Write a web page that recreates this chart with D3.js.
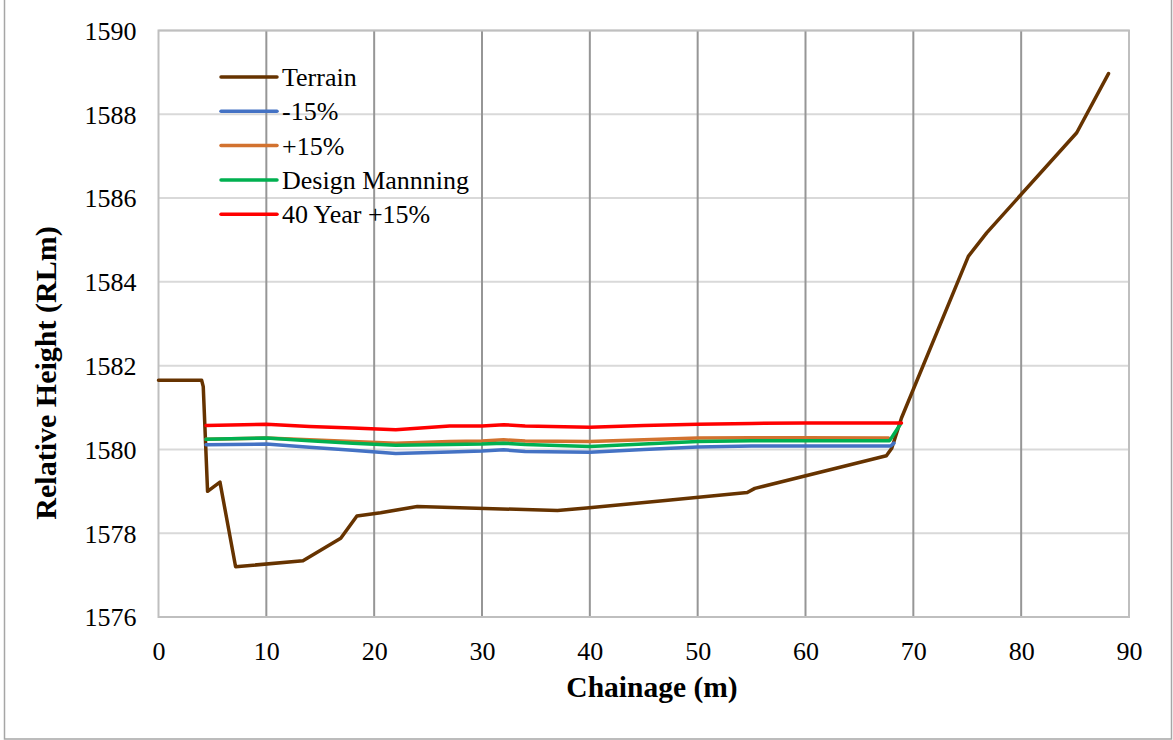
<!DOCTYPE html>
<html>
<head>
<meta charset="utf-8">
<script src="https://cdn.jsdelivr.net/npm/d3@7"></script>
<style>
  html, body { margin: 0; padding: 0; background: #fff; }
  svg { display: block; }
</style>
</head>
<body>
<svg id="chart" width="1173" height="740"></svg>
<script>
// Cross-section along the channel: ground profile and water surface levels
const terrainChainage = [0, 4.0, 4.15, 4.55, 5.7, 7.15, 13.4, 16.9, 18.4, 20.6, 24.0, 37.0, 39.7, 47.0, 54.6, 55.3, 67.5, 68.0, 68.9, 75.1, 76.8, 85.15, 88.1];
const terrainLevel    = [1581.65, 1581.65, 1581.5, 1579.0, 1579.22, 1577.2, 1577.34, 1577.88, 1578.41, 1578.49, 1578.64, 1578.54, 1578.6, 1578.78, 1578.97, 1579.07, 1579.85, 1580.03, 1580.75, 1584.61, 1585.17, 1587.56, 1588.97];

const minus15Chainage = [4.4, 10, 14, 18, 22, 27, 30, 32, 34, 40, 45, 50, 55, 60, 67.9, 68.2];
const minus15Level    = [1580.11, 1580.13, 1580.05, 1579.98, 1579.9, 1579.94, 1579.96, 1579.99, 1579.95, 1579.93, 1580.0, 1580.06, 1580.08, 1580.08, 1580.08, 1580.15];

const plus15Chainage  = [4.4, 10, 14, 18, 22, 27, 30, 32, 34, 40, 45, 50, 55, 60, 67.7];
const plus15Level     = [1580.24, 1580.27, 1580.23, 1580.19, 1580.15, 1580.19, 1580.2, 1580.23, 1580.2, 1580.19, 1580.23, 1580.27, 1580.28, 1580.28, 1580.27];

const designChainage  = [4.4, 10, 14, 18, 22, 27, 30, 32, 34, 40, 45, 50, 55, 60, 67.8, 68.8];
const designLevel     = [1580.24, 1580.27, 1580.21, 1580.15, 1580.1, 1580.12, 1580.13, 1580.15, 1580.12, 1580.07, 1580.13, 1580.19, 1580.21, 1580.21, 1580.21, 1580.6];

const year40Chainage  = [4.4, 10, 14, 18, 22, 27, 30, 32, 34, 40, 45, 50, 55, 60, 68.9];
const year40Level     = [1580.57, 1580.6, 1580.55, 1580.51, 1580.47, 1580.56, 1580.56, 1580.59, 1580.56, 1580.53, 1580.57, 1580.6, 1580.62, 1580.63, 1580.63];

const xTicks = [0, 10, 20, 30, 40, 50, 60, 70, 80, 90];
const yTicks = [1576, 1578, 1580, 1582, 1584, 1586, 1588, 1590];

const seriesNames = ["Terrain", "-15%", "+15%", "Design Mannning", "40 Year +15%"];
const seriesColors = ["#663300", "#4472C4", "#D2722F", "#00B050", "#FF0000"];
const seriesX = [terrainChainage, minus15Chainage, plus15Chainage, designChainage, year40Chainage];
const seriesY = [terrainLevel, minus15Level, plus15Level, designLevel, year40Level];

const svg = d3.select("#chart");
const plot = { left: 158.5, right: 1129, top: 30.5, bottom: 617 };

const x = d3.scaleLinear().domain([0, 90]).range([plot.left, plot.right]);
const y = d3.scaleLinear().domain([1576, 1590]).range([plot.bottom, plot.top]);

const serif = "'Liberation Serif', 'Times New Roman', serif";

// outer chart frame
svg.append("rect")
  .attr("x", 4.5).attr("y", -2).attr("width", 1167).attr("height", 741)
  .attr("fill", "#fff").attr("stroke", "#a6a6a6").attr("stroke-width", 1.5);

// horizontal gridlines
svg.append("g")
  .selectAll("line").data(yTicks).join("line")
  .attr("x1", plot.left).attr("x2", plot.right)
  .attr("y1", d => y(d)).attr("y2", d => y(d))
  .attr("stroke", "#d9d9d9").attr("stroke-width", 2);

// vertical gridlines
svg.append("g")
  .selectAll("line").data(xTicks.filter(d => d > 0 && d < 90)).join("line")
  .attr("x1", d => x(d)).attr("x2", d => x(d))
  .attr("y1", plot.top).attr("y2", plot.bottom)
  .attr("stroke", "#969696").attr("stroke-width", 2);

// plot area border
svg.append("rect")
  .attr("x", plot.left).attr("y", plot.top)
  .attr("width", plot.right - plot.left).attr("height", plot.bottom - plot.top)
  .attr("fill", "none").attr("stroke", "#bfbfbf").attr("stroke-width", 2);

// axes (labels only, no tick marks)
const xAxis = d3.axisBottom(x).tickValues(xTicks).tickSize(0).tickPadding(0);
const gx = svg.append("g").attr("transform", `translate(0,${plot.bottom})`).call(xAxis);
gx.select(".domain").remove();
gx.selectAll("text")
  .attr("y", 43).attr("dy", 0)
  .attr("font-family", serif).attr("font-size", 26).attr("fill", "#000");

const yAxis = d3.axisLeft(y).tickValues(yTicks).tickSize(0).tickPadding(0).tickFormat(d3.format("d"));
const gy = svg.append("g").attr("transform", `translate(${plot.left},0)`).call(yAxis);
gy.select(".domain").remove();
gy.selectAll("text")
  .attr("x", -22).attr("dy", "0.34em")
  .attr("font-family", serif).attr("font-size", 26).attr("fill", "#000");

// data lines
const line = d3.line().x(d => x(d[0])).y(d => y(d[1]));
seriesNames.forEach((name, i) => {
  const pts = seriesX[i].map((c, j) => [c, seriesY[i][j]]);
  svg.append("path")
    .datum(pts)
    .attr("d", line)
    .attr("fill", "none")
    .attr("stroke", seriesColors[i])
    .attr("stroke-width", 3.5)
    .attr("stroke-linejoin", "round")
    .attr("stroke-linecap", "round");
});

// legend
const legend = svg.append("g").attr("transform", "translate(221,77)");
seriesNames.forEach((name, i) => {
  const row = legend.append("g").attr("transform", `translate(0,${i * 34.3})`);
  row.append("line")
    .attr("x1", 0).attr("x2", 56).attr("y1", 0).attr("y2", 0)
    .attr("stroke", seriesColors[i]).attr("stroke-width", 3.5).attr("stroke-linecap", "round");
  row.append("text")
    .attr("x", 61).attr("y", 9)
    .attr("font-family", serif).attr("font-size", 26).attr("fill", "#000")
    .text(name);
});

// axis titles
svg.append("text")
  .attr("x", 652).attr("y", 697)
  .attr("text-anchor", "middle")
  .attr("font-family", serif).attr("font-weight", "bold").attr("font-size", 29.5).attr("fill", "#000")
  .text("Chainage (m)");

svg.append("text")
  .attr("transform", "translate(56,373) rotate(-90)")
  .attr("text-anchor", "middle")
  .attr("font-family", serif).attr("font-weight", "bold").attr("font-size", 30).attr("fill", "#000")
  .text("Relative Height (RLm)");
</script>
</body>
</html>
